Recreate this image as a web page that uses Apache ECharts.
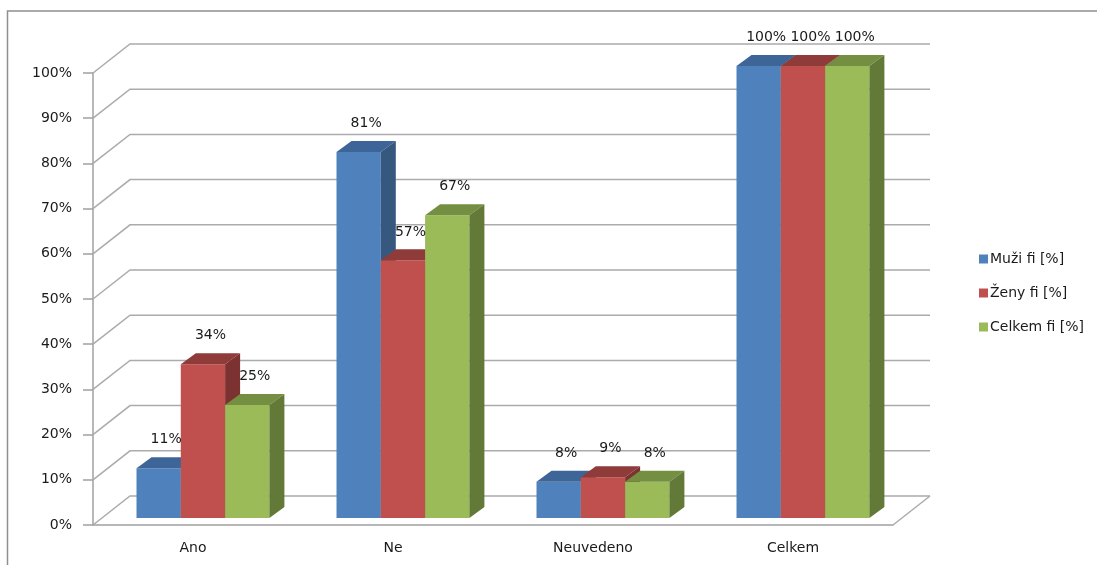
<!DOCTYPE html>
<html>
<head>
<meta charset="utf-8">
<script src="https://cdn.jsdelivr.net/npm/echarts@6/dist/echarts.min.js"></script>
<style>
  html, body { margin: 0; padding: 0; background: #fff; overflow: hidden; }
  #chart { width: 1097px; height: 565px; }
</style>
</head>
<body>
<div id="chart"></div>
<script>
// Answer categories and the share of each group (percent)
const categories = ['Ano', 'Ne', 'Neuvedeno', 'Celkem'];
const muzi = [11, 81, 8, 100];
const zeny = [34, 57, 9, 100];
const celkem = [25, 67, 8, 100];
const seriesNames = ['Muži fi [%]', 'Ženy fi [%]', 'Celkem fi [%]'];
const gridValues = [0, 10, 20, 30, 40, 50, 60, 70, 80, 90, 100];

// Oblique 3D look: depth of the back wall and of each bar (pixels)
const WALL_DX = 37, WALL_DY = -29;
const BAR_SHIFT_X = 10, BAR_SHIFT_Y = -7;
const BAR_DX = 15, BAR_DY = -11;
const FONT = 'DejaVu Sans';

const palettes = [
  { front: '#4F81BD', top: '#3E6597', side: '#36587F' },
  { front: '#C0504D', top: '#8E3B3A', side: '#7C3230' },
  { front: '#9BBB59', top: '#758F42', side: '#637937' }
];

function barRenderer(sIdx) {
  const pal = palettes[sIdx];
  return function (params, api) {
    const i = api.value(0), v = api.value(1);
    const base = api.coord([i, 0]);
    const top = api.coord([i, v]);
    const cw = api.size([1, 0])[0];
    const bw = cw * 0.2215;
    const x0 = base[0] + BAR_SHIFT_X - cw * 0.3325 + sIdx * bw;
    const x1 = x0 + bw;
    const yb = base[1] + BAR_SHIFT_Y;
    const yt = top[1] + BAR_SHIFT_Y;
    return {
      type: 'group',
      children: [
        { type: 'rect', shape: { x: x0, y: yt, width: bw, height: yb - yt },
          style: { fill: pal.front } },
        { type: 'polygon', shape: { points: [[x0, yt], [x1, yt], [x1 + BAR_DX, yt + BAR_DY], [x0 + BAR_DX, yt + BAR_DY]] },
          style: { fill: pal.top } },
        { type: 'polygon', shape: { points: [[x1, yt], [x1 + BAR_DX, yt + BAR_DY], [x1 + BAR_DX, yb + BAR_DY], [x1, yb]] },
          style: { fill: pal.side } },
        { type: 'text', z2: 100,
          style: { x: x0 + bw / 2 + BAR_DX / 2, y: yt + BAR_DY / 2 - 23,
                   text: v + '%', fill: '#1a1a1a', font: '14px "' + FONT + '"',
                   align: 'center', verticalAlign: 'middle' } }
      ]
    };
  };
}

// Back wall gridlines with their receding segment from the value axis,
// plus the chart frame (top and left edges)
function wallRenderer(params, api) {
  const v = api.value(1);
  const cs = params.coordSys;
  const y = api.coord([0, v])[1];
  const left = cs.x, right = cs.x + cs.width;
  const children = [{
    type: 'polyline',
    shape: { points: [[left, y], [left + WALL_DX, y + WALL_DY], [right + WALL_DX, y + WALL_DY]] },
    style: { stroke: '#ababab', lineWidth: 1.5, fill: null }
  }];
  if (v === 0) {
    children.push({
      type: 'line',
      shape: { x1: right, y1: y, x2: right + WALL_DX, y2: y + WALL_DY },
      style: { stroke: '#ababab', lineWidth: 1.5 }
    });
    children.push({
      type: 'polyline',
      shape: { points: [[1110, 11], [7.5, 11], [7.5, 580]] },
      style: { stroke: '#8f8f8f', lineWidth: 1.5, fill: null }
    });
  }
  return { type: 'group', children: children };
}

const values = [muzi, zeny, celkem];
const chart = echarts.init(document.getElementById('chart'), null, { renderer: 'canvas' });

chart.setOption({
  animation: false,
  backgroundColor: '#fff',
  grid: { left: 93, top: 73, width: 800, height: 452, outerBoundsMode: 'none' },
  legend: {
    orient: 'vertical', left: 974, top: 247,
    itemWidth: 9, itemHeight: 9, itemGap: 20, icon: 'rect',
    data: seriesNames,
    textStyle: { fontFamily: FONT, fontSize: 14, color: '#1a1a1a', padding: [0, 0, 0, -3] }
  },
  xAxis: {
    type: 'category', data: categories,
    axisLine: { lineStyle: { color: '#a0a0a0', width: 1.5 } },
    axisTick: { length: 6, lineStyle: { color: '#a0a0a0', width: 1.5 } },
    axisLabel: { margin: 16, fontFamily: FONT, fontSize: 14, color: '#1a1a1a' },
    splitLine: { show: false }
  },
  yAxis: {
    type: 'value', min: 0, max: 100, interval: 10,
    axisLine: { show: true, lineStyle: { color: '#a0a0a0', width: 1.5 } },
    axisTick: { show: true, length: 10, lineStyle: { color: '#a0a0a0', width: 1.5 } },
    axisLabel: { margin: 21, formatter: '{value}%', fontFamily: FONT, fontSize: 14, color: '#1a1a1a' },
    splitLine: { show: false }
  },
  series: [
    {
      type: 'custom', name: 'wall', z: 1, silent: true,
      renderItem: wallRenderer,
      encode: { x: 0, y: 1 },
      data: gridValues.map(v => [0, v])
    }
  ].concat(seriesNames.map((name, s) => ({
    type: 'custom', name: name, z: 2,
    itemStyle: { color: palettes[s].front },
    renderItem: barRenderer(s),
    encode: { x: 0, y: 1 },
    data: categories.map((c, i) => [i, values[s][i]])
  })))
});
</script>
</body>
</html>
